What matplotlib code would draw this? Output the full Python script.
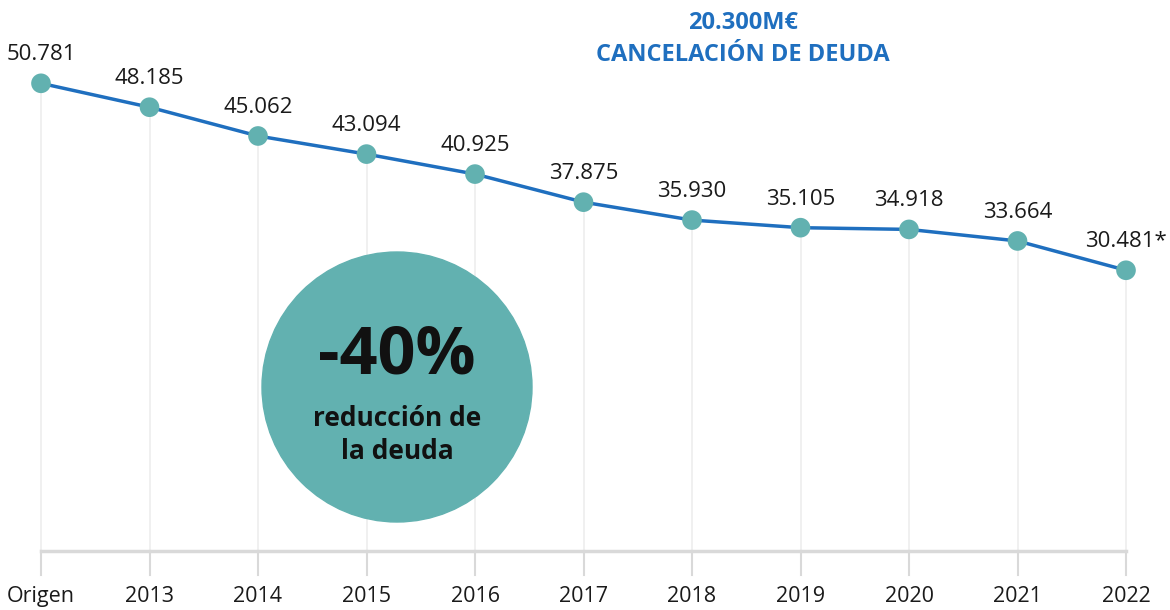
import matplotlib
matplotlib.use("Agg")
import matplotlib.pyplot as plt
from matplotlib.patches import Circle

categories = ["Origen", "2013", "2014", "2015", "2016", "2017", "2018", "2019", "2020", "2021", "2022"]
values = [50781, 48185, 45062, 43094, 40925, 37875, 35930, 35105, 34918, 33664, 30481]
labels = ["50.781", "48.185", "45.062", "43.094", "40.925", "37.875", "35.930", "35.105", "34.918", "33.664", "30.481*"]
title_lines = ["20.300M€", "CANCELACIÓN DE DEUDA"]
badge_big = "-40%"
badge_small = "reducción de\nla deuda"

FONT = ["Open Sans", "DejaVu Sans"]
plt.rcParams['font.family'] = FONT

W, H = 1170, 610
fig = plt.figure(figsize=(W / 100, H / 100), dpi=100)
base_px = 551
ax = fig.add_axes([0, (H - base_px) / H, 1, base_px / H])
px_per_unit = 9.21 / 1000
ax.set_ylim(0, base_px / px_per_unit)
x0_px, step_px = 41, 108.5
ax.set_xlim(-x0_px / step_px, (W - x0_px) / step_px)
ax.axis("off")

xs = list(range(len(categories)))
teal = "#62b1b0"
blue = "#1f6fbf"

for x, v in zip(xs, values):
    ax.plot([x, x], [0, v], color="#eeeeee", lw=1.2, zorder=1, solid_capstyle="butt")
    ax.plot([x, x], [0, -24 / px_per_unit], color="#d9d9d9", lw=1.5, zorder=1, clip_on=False)
ax.plot([xs[0], xs[-1]], [0, 0], color="#d9d9d9", lw=2.5, zorder=2, clip_on=False)

ax.plot(xs, values, color=blue, lw=2.5, zorder=3)
ax.scatter(xs, values, s=200, color=teal, zorder=4, edgecolors="none")

for x, v, lab in zip(xs, values, labels):
    ax.annotate(lab, (x, v), xytext=(0, 16.5), textcoords="offset points",
                ha="center", va="baseline", fontsize=16, color="#1a1a1a")

for x, c in zip(xs, categories):
    ax.annotate(c, (x, 0), xytext=(0, -37), textcoords="offset points",
                ha="center", va="baseline", fontsize=15.5, color="#1a1a1a", annotation_clip=False)

fig.text(743 / W, 1 - 29 / H, title_lines[0], ha="center", va="baseline",
         fontsize=17, fontweight="bold", color=blue)
fig.text(743 / W, 1 - 61 / H, title_lines[1], ha="center", va="baseline",
         fontsize=17, fontweight="bold", color=blue)

cx, cy, r = 397, 387, 135
circ = Circle((cx, H - cy), r, transform=None, color=teal, zorder=5)
fig.patches.append(circ)
fig.text(cx / W, 1 - 356 / H, badge_big, ha="center", va="center",
         fontsize=48, fontweight="bold", color="#111111", zorder=6)
fig.text(cx / W, 1 - 435 / H, badge_small, ha="center", va="center",
         fontsize=19, fontweight="bold", color="#111111", linespacing=1.3, zorder=6)

fig.savefig("out.png", dpi=100)
